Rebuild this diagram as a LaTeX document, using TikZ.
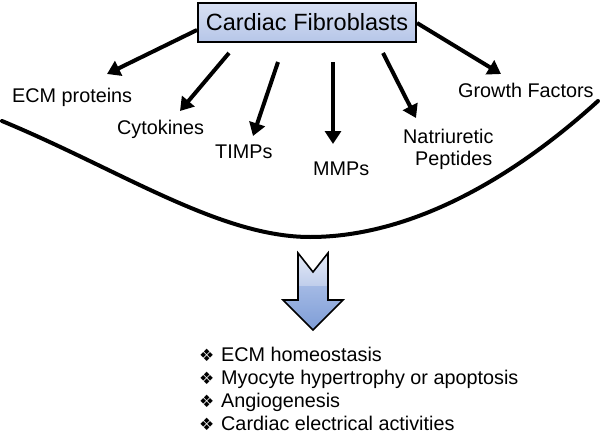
\documentclass[tikz,border=0pt]{standalone}
\usepackage{fontspec}
\setmainfont{Liberation Sans}
\newfontfamily\symfont{DejaVu Sans}
\usetikzlibrary{arrows.meta}
\definecolor{boxtop}{HTML}{D8E0F3}
\definecolor{boxbot}{HTML}{B6C6E8}
\definecolor{arrtop}{HTML}{E6ECF8}
\definecolor{arrmid}{HTML}{BFCDEB}
\definecolor{arrlow}{HTML}{A3B9E4}
\definecolor{arrbot}{HTML}{7E9DD7}
\tikzset{
  fibbox/.style={draw=black, line width=2.5pt, top color=boxtop, bottom color=boxbot,
    minimum width=218pt, minimum height=39pt, inner sep=0pt,
    font=\fontsize{23.5}{28}\selectfont},
  lbl/.style={inner sep=0pt, font=\fontsize{19.8}{23}\selectfont},
  bul/.style={inner sep=0pt, font=\symfont\fontsize{17}{19}\selectfont},
  fatarrow/.style={line width=4pt, -{Triangle[length=13pt,width=16pt]}},
  curveline/.style={line width=4pt, line cap=round}
}
\begin{document}
\begin{tikzpicture}[x=1pt,y=-1pt]
\useasboundingbox (0,0) rectangle (600,439);
% main box
\node[fibbox] (cf) at (307,22.5) {Cardiac Fibroblasts};
% labels
\node[lbl, anchor=base west] (ecm) at (12,102) {ECM proteins};
\node[lbl, anchor=base west] (cyt) at (117,134) {Cytokines};
\node[lbl, anchor=base west] (timp) at (215,158) {TIMPs};
\node[lbl, anchor=base west] (mmp) at (313,175) {MMPs};
\node[lbl, anchor=base west] (nat) at (403,143) {Natriuretic};
\node[lbl, anchor=base west] (pep) at (415,165) {Peptides};
\node[lbl, anchor=base west] (gf) at (458,97) {Growth Factors};
% arrow ends
\coordinate (s1) at (197,30);  \coordinate (t1) at (107,74);
\coordinate (s2) at (229,53);  \coordinate (t2) at (180,111);
\coordinate (s3) at (278,62);  \coordinate (t3) at (253,136);
\coordinate (s4) at (333,62);  \coordinate (t4) at (333,144);
\coordinate (s5) at (383,53);  \coordinate (t5) at (416,118);
\coordinate (s6) at (417,23);  \coordinate (t6) at (501,74);
\draw[fatarrow] (s1) -- (t1);
\draw[fatarrow] (s2) -- (t2);
\draw[fatarrow] (s3) -- (t3);
\draw[fatarrow] (s4) -- (t4);
\draw[fatarrow] (s5) -- (t5);
\draw[fatarrow] (s6) -- (t6);
% curve
\coordinate (cl) at (2,121);
\coordinate (cm) at (310,237);
\coordinate (cr) at (598,101);
\draw[curveline] (cl) .. controls (120,170) and (220,237) .. (cm)
  .. controls (400,237) and (500,190) .. (cr);
% block arrow
\shade[top color=arrtop, bottom color=arrmid]
  (298,253) -- (313,272) -- (328,253) -- (328,286) -- (298,286) -- cycle;
\shade[top color=arrlow, bottom color=arrbot]
  (298,286) -- (328,286) -- (328,300) -- (343,300) -- (313,330) -- (283,300) -- (298,300) -- cycle;
\draw[line width=1.6pt, line join=miter]
  (298,253) -- (313,272) -- (328,253) -- (328,300) -- (343,300) -- (313,330) -- (283,300) -- (298,300) -- cycle;
% outcome list
\node[bul, anchor=base west] (b1) at (199,361) {❖};
\node[bul, anchor=base west] (b2) at (199,384) {❖};
\node[bul, anchor=base west] (b3) at (199,407) {❖};
\node[bul, anchor=base west] (b4) at (199,430) {❖};
\node[lbl, anchor=base west] (o1) at (221,361) {ECM homeostasis};
\node[lbl, anchor=base west] (o2) at (221,384) {Myocyte hypertrophy or apoptosis};
\node[lbl, anchor=base west] (o3) at (221,407) {Angiogenesis};
\node[lbl, anchor=base west] (o4) at (221,430) {Cardiac electrical activities};
\end{tikzpicture}
\end{document}
